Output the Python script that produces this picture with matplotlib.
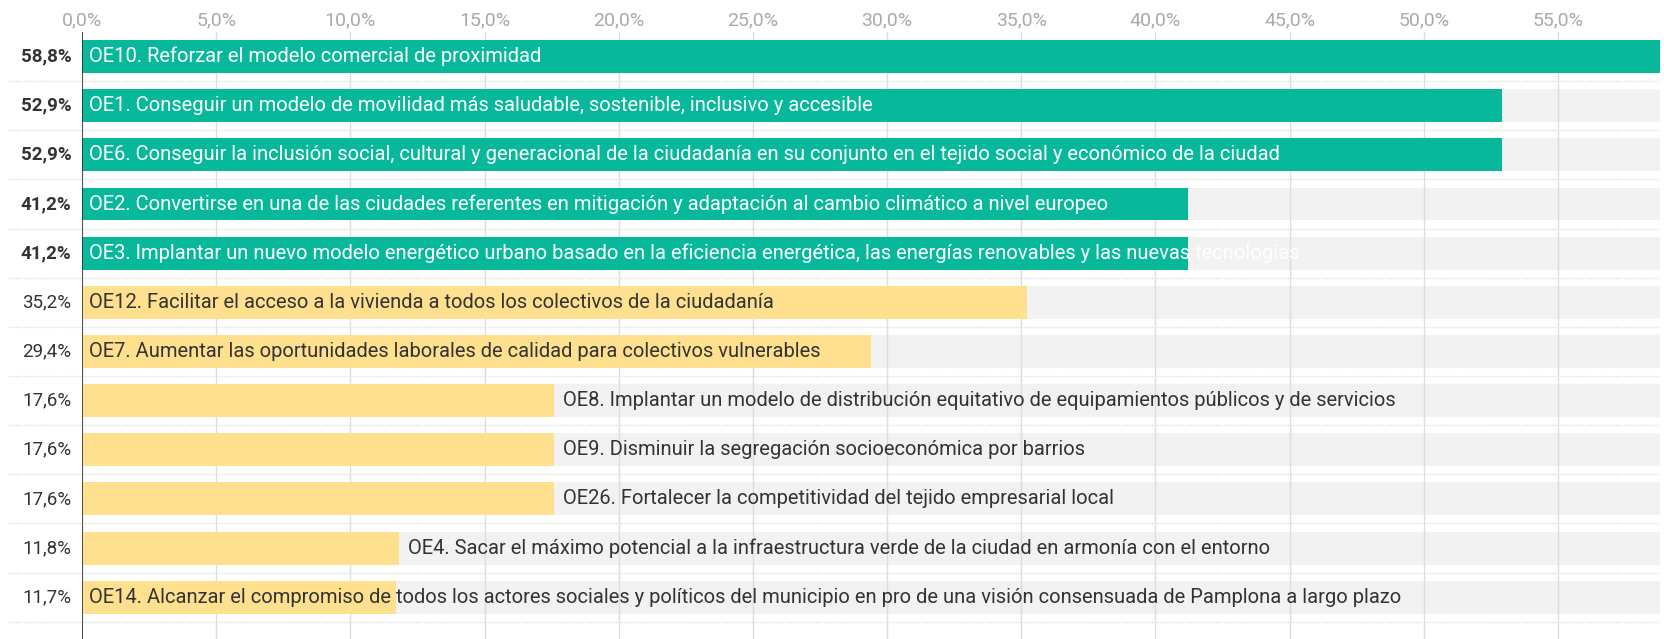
import matplotlib.pyplot as plt

plt.rcParams['font.family'] = ['Roboto', 'DejaVu Sans']

labels = [
    "OE10. Reforzar el modelo comercial de proximidad",
    "OE1. Conseguir un modelo de movilidad más saludable, sostenible, inclusivo y accesible",
    "OE6. Conseguir la inclusión social, cultural y generacional de la ciudadanía en su conjunto en el tejido social y económico de la ciudad",
    "OE2. Convertirse en una de las ciudades referentes en mitigación y adaptación al cambio climático a nivel europeo",
    "OE3. Implantar un nuevo modelo energético urbano basado en la eficiencia energética, las energías renovables y las nuevas tecnologías",
    "OE12. Facilitar el acceso a la vivienda a todos los colectivos de la ciudadanía",
    "OE7. Aumentar las oportunidades laborales de calidad para colectivos vulnerables",
    "OE8. Implantar un modelo de distribución equitativo de equipamientos públicos y de servicios",
    "OE9. Disminuir la segregación socioeconómica por barrios",
    "OE26. Fortalecer la competitividad del tejido empresarial local",
    "OE4. Sacar el máximo potencial a la infraestructura verde de la ciudad en armonía con el entorno",
    "OE14. Alcanzar el compromiso de todos los actores sociales y políticos del municipio en pro de una visión consensuada de Pamplona a largo plazo",
]
values = [58.8, 52.9, 52.9, 41.2, 41.2, 35.2, 29.4, 17.6, 17.6, 17.6, 11.8, 11.7]
top_group = [True, True, True, True, True, False, False, False, False, False, False, False]
ticks = [0, 5, 10, 15, 20, 25, 30, 35, 40, 45, 50, 55]

teal = "#08b89b"
yellow = "#fee08f"
track = "#f2f2f2"
xmax = 58.8
label_outside = {7, 8, 9, 10}

fig = plt.figure(figsize=(16.65, 6.39), dpi=100)
ax = fig.add_axes([82 / 1665, 0, (1660 - 82) / 1665, 1 - 32 / 639])

n = len(values)
y = list(range(n))
ax.barh(y, [xmax] * n, height=0.67, color=track, zorder=1)
colors = [teal if t else yellow for t in top_group]
ax.barh(y, values, height=0.67, color=colors, zorder=3)

for i, (v, lab, t) in enumerate(zip(values, labels, top_group)):
    if t:
        ax.text(0.25, i, lab, va="center", ha="left", color="white", fontsize=14.5, zorder=4)
    elif i in label_outside:
        ax.text(v + 0.33, i, lab, va="center", ha="left", color="#333333", fontsize=14.5, zorder=4)
    else:
        ax.text(0.25, i, lab, va="center", ha="left", color="#333333", fontsize=14.5, zorder=4)
    ax.text(-0.4, i, f"{v:.1f}%".replace(".", ","), va="center", ha="right",
            color="#333333", fontsize=13.5, fontweight="bold" if t else "normal")

for t in ticks:
    ax.axvline(t, color="#dddddd", lw=1, zorder=2)
for i in range(n):
    ax.plot([-2.8, xmax], [i + 0.5, i + 0.5], color="#e0e0e0", lw=1, ls=(0, (1, 1)),
            clip_on=False, zorder=0)
ax.axvline(0, color="#333333", lw=1.2, zorder=5)

ax.set_xlim(0, xmax)
ax.set_ylim(11.85, -0.5)
ax.xaxis.tick_top()
ax.set_xticks(ticks)
ax.set_xticklabels([f"{t:.1f}%".replace(".", ",") for t in ticks], color="#aaaaaa", fontsize=14)
ax.tick_params(axis="x", length=0, pad=2)
ax.set_yticks([])
for s in ax.spines.values():
    s.set_visible(False)

fig.savefig("out.png", dpi=100, facecolor="white")
